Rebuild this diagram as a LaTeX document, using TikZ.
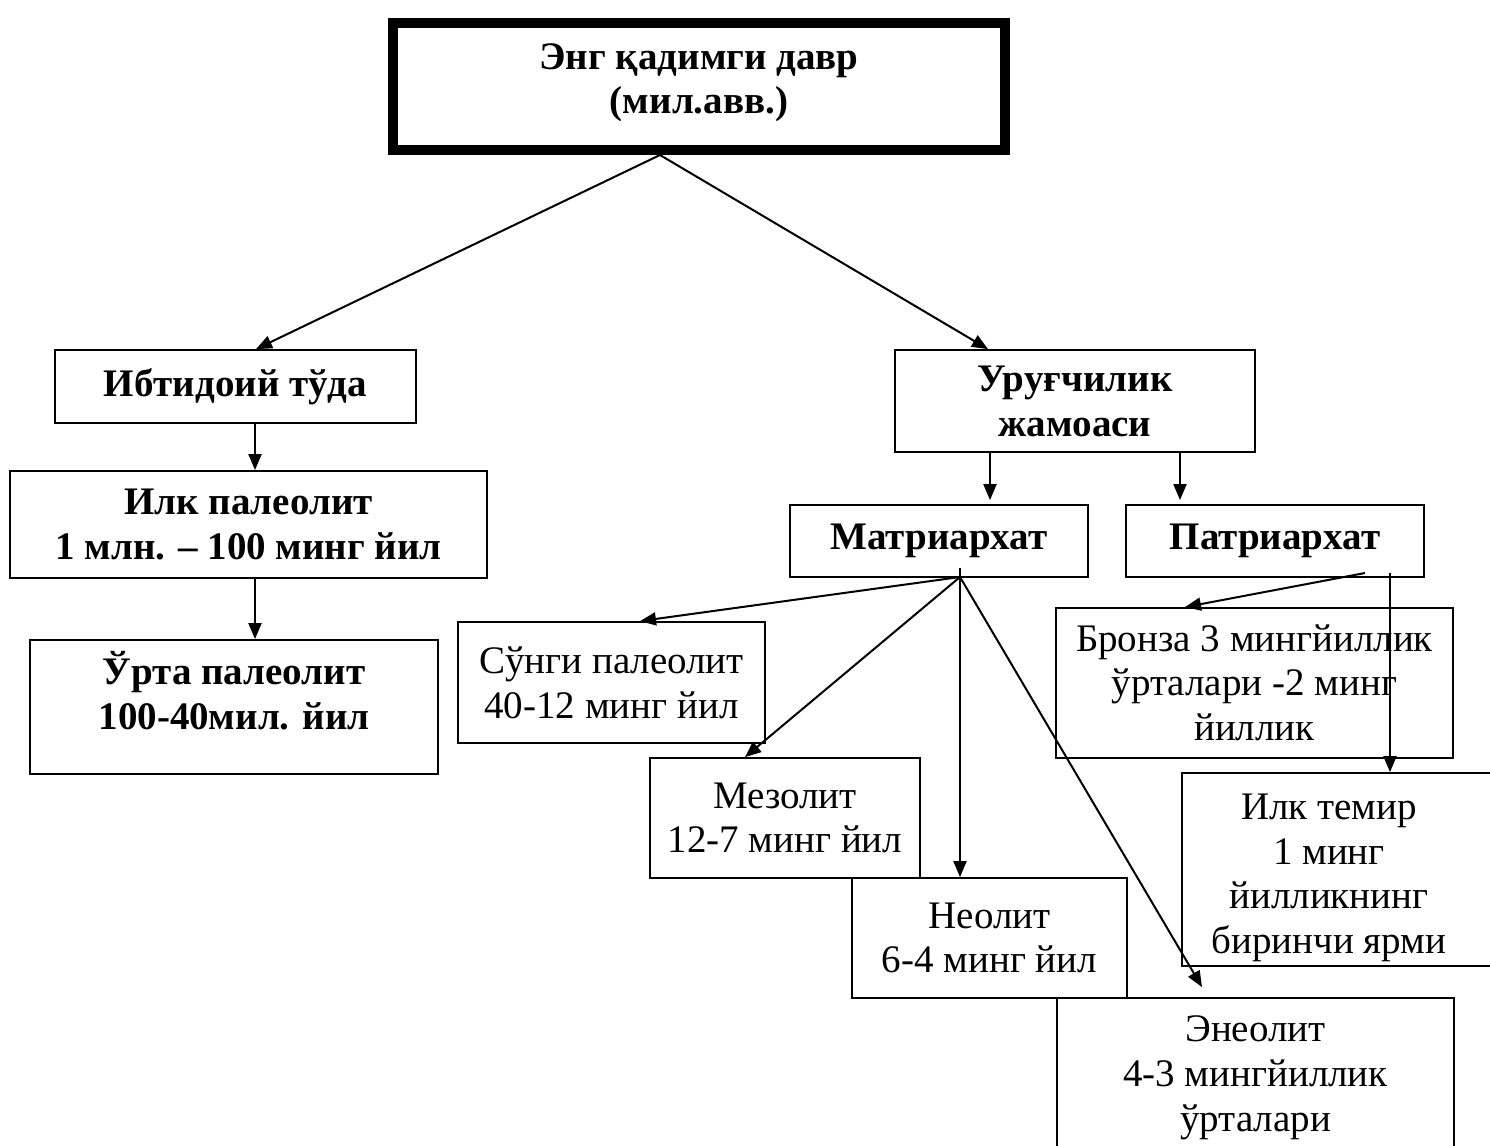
\documentclass[tikz,border=0pt]{standalone}
\usepackage{fontspec}
\setmainfont{Liberation Serif}
\usetikzlibrary{arrows.meta,calc}
\begin{document}
\begin{tikzpicture}[x=0.5pt,y=-0.5pt,
  box/.style={draw,line width=0.9pt,inner sep=0pt,align=center,
    font=\fontsize{19.5}{22.4}\selectfont},
  bbox/.style={box,font=\fontsize{19.5}{22.4}\selectfont\bfseries},
  arr/.style={line width=1pt,-{Triangle[length=8pt,width=6.5pt]}}]
\useasboundingbox (0,0) rectangle (1490,1146);
\clip (0,0) rectangle (1490,1146);
% nodes
\node[bbox,line width=5pt,minimum width=306pt,minimum height=63.5pt] (top) at (699,86.5) {\raisebox{2pt}[\height][\depth]{\begin{tabular}{@{}c@{}}Энг қадимги давр\\(мил.авв.)\end{tabular}}};
\node[bbox,minimum width=180.5pt,minimum height=36.5pt] (ibt) at (235.5,386.5) {Ибтидоий тўда};
\node[bbox,minimum width=180pt,minimum height=51pt] (uru) at (1075,401) {\raisebox{-2pt}[\height][\depth]{\begin{tabular}{@{}c@{}}Уруғчилик\\жамоаси\end{tabular}}};
\node[bbox,minimum width=238.5pt,minimum height=53.5pt] (ilk) at (248.5,524.5) {Илк палеолит\\1 млн. – 100 минг йил};
\node[bbox,minimum width=204pt,minimum height=67pt] (urta) at (234,707) {\raisebox{5pt}[\height][\depth]{\begin{tabular}{@{}c@{}}Ўрта палеолит\\100-40мил. йил\end{tabular}}};
\node[bbox,minimum width=149pt,minimum height=36pt] (mat) at (939,541) {Матриархат};
\node[bbox,minimum width=149pt,minimum height=36pt] (pat) at (1275,541) {Патриархат};
\node[box,minimum width=153.5pt,minimum height=60.5pt] (sun) at (611.5,682.5) {Сўнги палеолит\\40-12 минг йил};
\node[box,minimum width=198.5pt,minimum height=75pt] (bro) at (1254.5,683) {\raisebox{-2pt}[\height][\depth]{\begin{tabular}{@{}c@{}}Бронза 3 мингйиллик\\ўрталари -2 минг\\йиллик\end{tabular}}};
\node[box,minimum width=135pt,minimum height=60pt] (mez) at (785,818) {Мезолит\\12-7 минг йил};
\node[box,minimum width=159pt,minimum height=96.5pt] (tem) at (1341,869.5) {\hspace*{-12pt}\raisebox{-4pt}[\height][\depth]{\begin{tabular}{@{}c@{}}Илк темир\\1 минг\\йилликнинг\\биринчи ярми\end{tabular}}};
\node[box,minimum width=137.5pt,minimum height=60pt] (neo) at (989.5,938) {Неолит\\6-4 минг йил};
\node[box,minimum width=198.5pt,minimum height=80pt] (ene) at (1255.5,1078) {Энеолит\\4-3 мингйиллик\\ўрталари};
% connectors
\coordinate (topo) at (660,155);
\draw[arr] (topo) -- (256,0 |- ibt.north);
\draw[arr] (topo) -- (988,0 |- uru.north);
\draw[arr] (255,0 |- ibt.south) -- (255,0 |- ilk.north);
\draw[arr] (255,0 |- ilk.south) -- (255,0 |- urta.north);
\draw[arr] (990,0 |- uru.south) -- ($(990,0 |- mat.north)+(0,-4)$);
\draw[arr] (1180,0 |- uru.south) -- ($(1180,0 |- pat.north)+(0,-4)$);
\coordinate (matf) at (960,577);
\draw[line width=1pt] (960,568) -- (matf);
\draw[arr] (matf) -- (640,0 |- sun.north);
\draw[arr] (matf) -- (745,0 |- mez.north);
\draw[arr] (matf) -- (960,0 |- neo.north);
\draw[arr] (matf) -- ($(1202,0 |- ene.north)+(0,-10)$);
\coordinate (patf1) at (1365,573);
\coordinate (patf2) at (1390,573);
\draw[arr] (patf1) -- (1185,0 |- bro.north);
\draw[arr] (patf2) -- (1390,0 |- tem.north);
\end{tikzpicture}
\end{document}
